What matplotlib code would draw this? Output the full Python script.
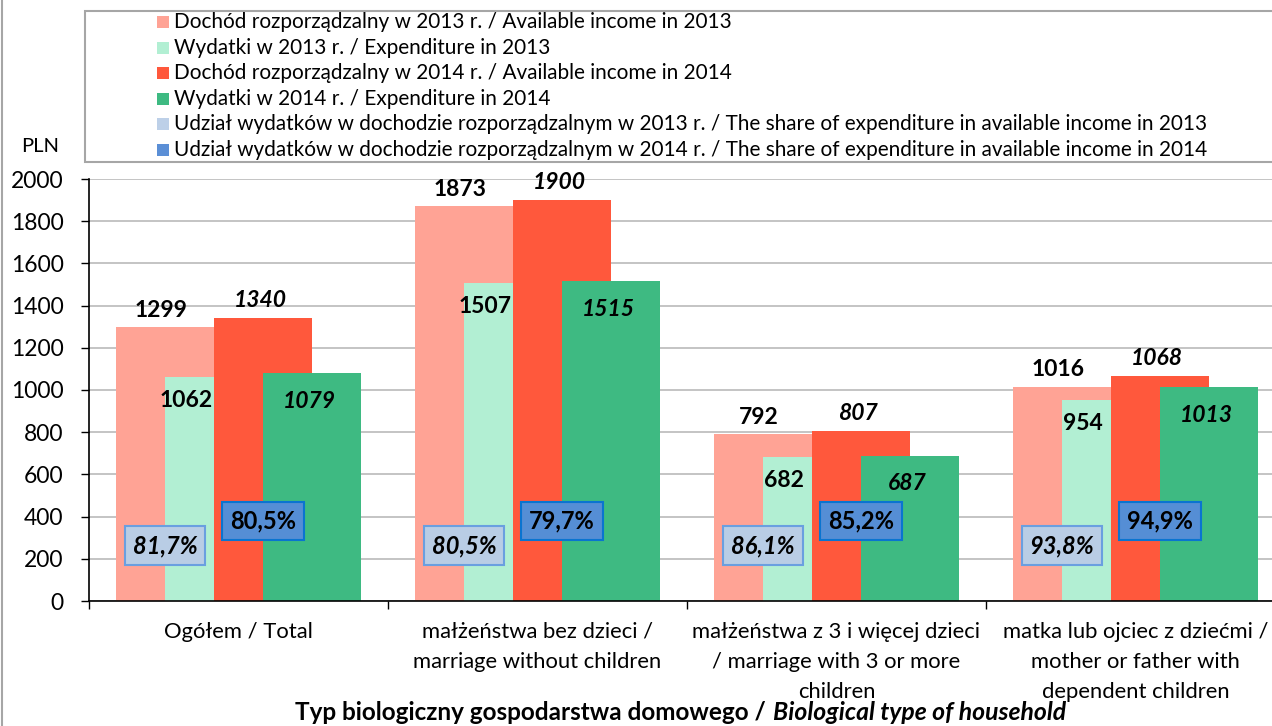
import numpy as np
import matplotlib
matplotlib.use('Agg')
import matplotlib.pyplot as plt
from matplotlib.patches import Rectangle

plt.rcParams['font.family'] = ['Lato', 'DejaVu Sans']

categories = ['Ogółem / Total',
              'małżeństwa bez dzieci /\nmarriage without children',
              'małżeństwa z 3 i więcej dzieci\n/ marriage with 3 or more\nchildren',
              'matka lub ojciec z dziećmi /\nmother or father with\ndependent children']
income_2013 = [1299, 1873, 792, 1016]
expend_2013 = [1062, 1507, 682, 954]
income_2014 = [1340, 1900, 807, 1068]
expend_2014 = [1079, 1515, 687, 1013]
share_2013 = [81.7, 80.5, 86.1, 93.8]
share_2014 = [80.5, 79.7, 85.2, 94.9]

legend_labels = ['Dochód rozporządzalny w 2013 r. / Available income in 2013',
                 'Wydatki w 2013 r. / Expenditure in 2013',
                 'Dochód rozporządzalny w 2014 r. / Available income in 2014',
                 'Wydatki w 2014 r. / Expenditure in 2014',
                 'Udział wydatków w dochodzie rozporządzalnym w 2013 r. / The share of expenditure in available income in 2013',
                 'Udział wydatków w dochodzie rozporządzalnym w 2014 r. / The share of expenditure in available income in 2014']
colors = ['#FFA395', '#B2EFD3', '#FF583C', '#3EBA82', '#BDD0E8', '#5B8FD6']

W, H = 1272, 726
fig = plt.figure(figsize=(W / 100, H / 100), dpi=100, facecolor='white')

def fx(px):
    return px / W

def fy(py):
    return 1 - py / H

ax = fig.add_axes([fx(89), fy(601), 1196 / W, 422 / H])

x = np.arange(len(categories))
bw = 0.328
step = 0.164
series = [income_2013, expend_2013, income_2014, expend_2014]
offsets = [-1.5 * step, -0.5 * step, 0.5 * step, 1.5 * step]
for vals, off, col in zip(series, offsets, colors[:4]):
    ax.bar(x + off, vals, width=bw, color=col, linewidth=0)

# value labels (points: 1pt = 1.39 px here)
fs = 16.5
for i in range(len(x)):
    ax.annotate(str(income_2013[i]), (x[i] + offsets[0], income_2013[i]), xytext=(-3, 12),
                textcoords='offset points', ha='center', va='center', fontsize=fs, fontweight='bold')
    ax.annotate(str(expend_2013[i]), (x[i] + offsets[1], expend_2013[i]), xytext=(-20, -17),
                textcoords='offset points', ha='center', va='center', fontsize=fs, fontweight='bold')
    ax.annotate(str(income_2014[i]), (x[i] + offsets[2], income_2014[i]), xytext=(-2, 12.5),
                textcoords='offset points', ha='center', va='center', fontsize=fs, fontweight='bold', style='italic')
    ax.annotate(str(expend_2014[i]), (x[i] + offsets[3], expend_2014[i]), xytext=(-2, -20),
                textcoords='offset points', ha='center', va='center', fontsize=fs, fontweight='bold', style='italic')
    ax.text(x[i] + offsets[0], 262, f'{share_2013[i]:.1f}%'.replace('.', ','), ha='center', va='center',
            fontsize=17, fontweight='bold', style='italic', zorder=5,
            bbox=dict(boxstyle='square,pad=0.33', fc='#B9CDE5', ec='#6A9FE0', lw=1.5))
    ax.text(x[i] + offsets[2], 380, f'{share_2014[i]:.1f}%'.replace('.', ','), ha='center', va='center',
            fontsize=17, fontweight='bold', zorder=5,
            bbox=dict(boxstyle='square,pad=0.33', fc='#558ED5', ec='#0A74D0', lw=1.5))

ax.set_xlim(-0.5, len(categories) - 0.5)
ax.set_ylim(0, 2000)
ax.set_yticks(np.arange(0, 2001, 200))
ax.tick_params(axis='y', labelsize=16.5, length=5.8, width=1, pad=12.5, direction='out')
ax.set_xticks(x)
ax.set_xticklabels(categories, fontsize=15.8, linespacing=1.62)
ax.set_xticks(np.arange(-0.5, len(categories), 1), minor=True)
ax.tick_params(axis='x', which='major', length=0, pad=15)
ax.tick_params(axis='x', which='minor', length=5.8, width=1, direction='out')
ax.grid(axis='y', color='#BFBFBF', lw=1.3)
ax.set_axisbelow(True)
for s in ['top', 'right']:
    ax.spines[s].set_visible(False)
ax.spines['left'].set_linewidth(1.2)
ax.spines['bottom'].set_linewidth(1.2)

# axis title (bold + bold italic)
fig.text(fx(766), fy(713), 'Typ biologiczny gospodarstwa domowego /', ha='right', va='center',
         fontsize=17.5, fontweight='bold')
fig.text(fx(773), fy(713), 'Biological type of household', ha='left', va='center',
         fontsize=17.8, fontweight='bold', style='italic')
fig.text(fx(40), fy(146), 'PLN', ha='center', va='center', fontsize=14.5)

# legend frame and entries
fig.patches.append(Rectangle((fx(85), fy(162)), fx(1300 - 85), (162 - 11) / H, transform=fig.transFigure,
                             fc='white', ec='#A6A6A6', lw=1.5, clip_on=False))
for i, (lab, col) in enumerate(zip(legend_labels, colors)):
    yc = 22 + 25.6 * i
    fig.patches.append(Rectangle((fx(157), fy(yc + 6)), fx(12), 12 / H, transform=fig.transFigure,
                                 fc=col, ec='none'))
    fig.text(fx(174), fy(yc), lab, ha='left', va='center', fontsize=14.95)

# outer chart border on the left
fig.add_artist(plt.Line2D([fx(1.5), fx(1.5)], [0, 1], transform=fig.transFigure, color='#A6A6A6', lw=1.5))

fig.savefig('out.png', dpi=100, facecolor='white')
